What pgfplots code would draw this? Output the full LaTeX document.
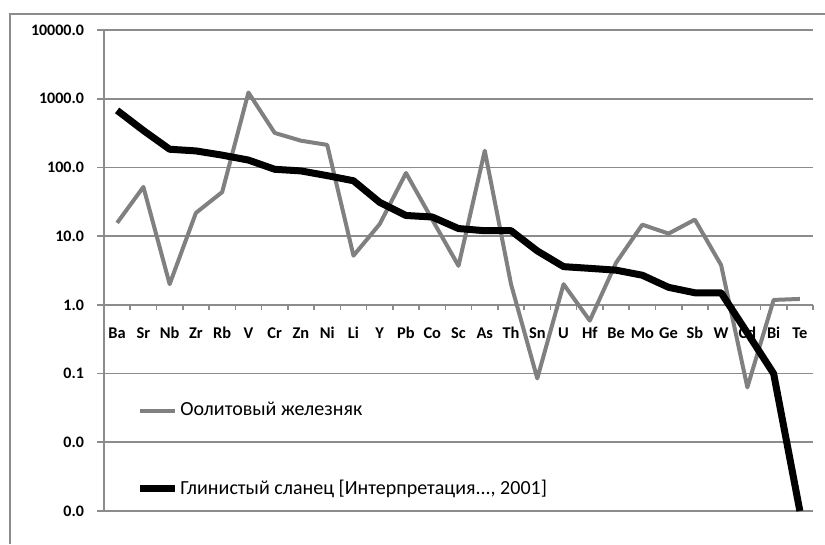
\documentclass[border=0pt]{standalone}
\usepackage{fontspec}
\setmainfont{Carlito}
\usepackage{pgfplots}
\pgfplotsset{compat=1.18}
\definecolor{sergray}{RGB}{128,128,128}
\definecolor{gridgray}{RGB}{140,140,140}
\begin{document}
\begin{tikzpicture}
\begin{axis}[
  scale only axis, width=354.5pt, height=240.5pt,
  ymode=log, ymin=1e-3, ymax=1e4,
  xmin=0.5, xmax=27.5,
  axis x line=middle, axis y line=left,
  axis line style={-, gridgray, line width=0.8pt},
  ymajorgrids, grid style={gridgray, line width=0.8pt},
  ytick={1e-3,1e-2,1e-1,1,10,100,1000,10000},
  yticklabels={0.0,0.0,0.1,1.0,10.0,100.0,1000.0,10000.0},
  yminorticks=false,
  ytick align=outside, ytick style={gridgray, line width=0.8pt},
  major tick length=3.5pt,
  yticklabel style={font=\bfseries\fontsize{8}{9}\selectfont, xshift=-3pt},
  xtick={1,...,27},
  xticklabels={Ba,Sr,Nb,Zr,Rb,V,Cr,Zn,Ni,Li,Y,Pb,Co,Sc,As,Th,Sn,U,Hf,Be,Mo,Ge,Sb,W,Cd,Bi,Te},
  major x tick style={draw=none},
  minor xtick={0.5,1.5,...,27.5},
  minor x tick style={draw=gridgray, line width=0.8pt},
  minor tick length=2.5pt,
  xtick align=outside,
  xticklabel style={font=\bfseries\fontsize{8.2}{9}\selectfont, text height=6pt, text depth=0pt, yshift=-4pt},
  legend style={draw=none, fill=none, at={(0.045,0.235)}, anchor=north west,
    font=\fontsize{10}{12}\selectfont, row sep=26.5pt, inner sep=0pt,
    nodes={inner xsep=1pt}},
  legend cell align=left,
  legend image code/.code={\draw[#1, line cap=butt] (0pt,0pt) -- (17.5pt,0pt);},
  clip=false,
]
\addplot[sergray, line width=2pt, line join=round] coordinates {
(1,15.6) (2,52) (3,2.0) (4,21.8) (5,43.8) (6,1230) (7,318) (8,245) (9,213)
(10,5.2) (11,15) (12,83) (13,17.4) (14,3.7) (15,175) (16,2.0) (17,0.085)
(18,2.0) (19,0.59) (20,4.1) (21,14.7) (22,10.9) (23,17.4) (24,3.8)
(25,0.063) (26,1.18) (27,1.22)};
\addlegendentry{Оолитовый железняк}
\addplot[black, line width=3.5pt, line join=round] coordinates {
(1,676) (2,345) (3,184) (4,174) (5,151) (6,128) (7,94) (8,89) (9,76)
(10,64) (11,31) (12,20) (13,19) (14,12.9) (15,12) (16,12) (17,6.1)
(18,3.6) (19,3.4) (20,3.2) (21,2.7) (22,1.8) (23,1.5) (24,1.5)
(25,0.39) (26,0.10) (27,0.001)};
\addlegendentry{Глинистый сланец [Интерпретация..., 2001]}
\coordinate (bl) at (rel axis cs:-0.1467,-0.0686);
\coordinate (tr) at (rel axis cs:1.0169,1.0624);
\coordinate (fl) at (rel axis cs:-0.1326,-0.0686);
\coordinate (ft) at (rel axis cs:1.0169,1.0333);
\end{axis}
\draw[gridgray, line width=0.8pt] (fl) |- (ft);
\pgfresetboundingbox
\useasboundingbox (bl) rectangle (tr);
\end{tikzpicture}
\end{document}
